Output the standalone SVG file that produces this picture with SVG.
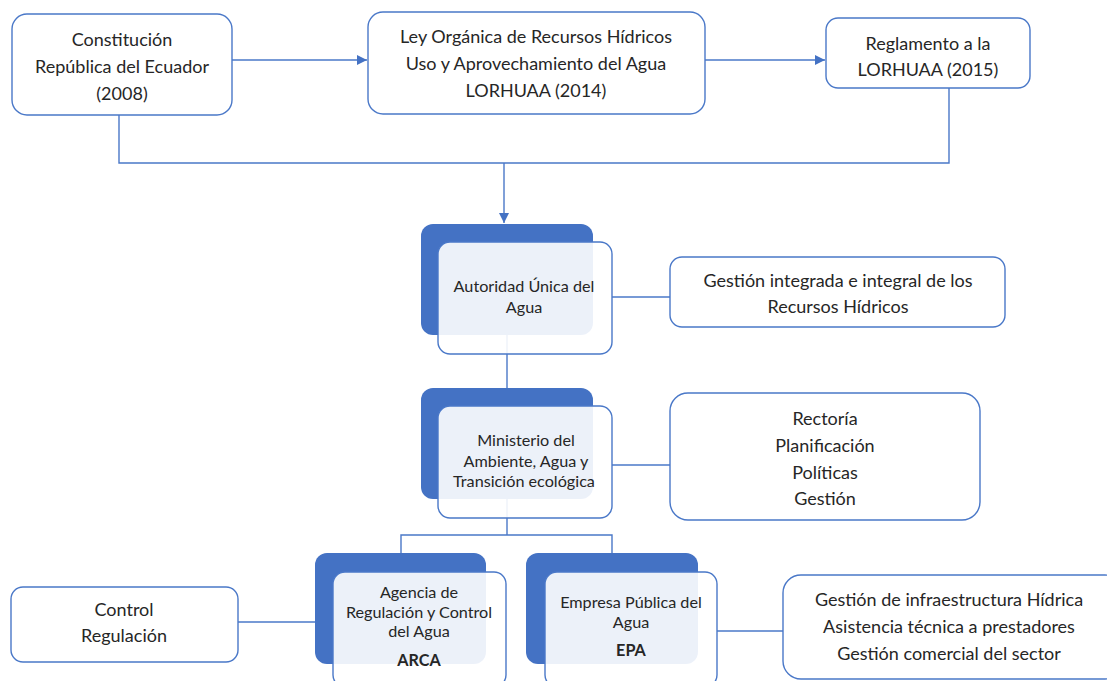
<svg xmlns="http://www.w3.org/2000/svg" width="1107" height="681" viewBox="0 0 1107 681">
<defs>
<style>
.box{fill:#fff;stroke:#4a78c8;stroke-width:1.4}
.back{fill:#4472c4}
.front{fill:#fff;fill-opacity:0.9;stroke:#4a78c8;stroke-width:1.4}
.ln{fill:none;stroke:#4a78c8;stroke-width:1.4}
.t{font-family:Lato,"Liberation Sans",sans-serif;font-size:18px;fill:#262626;text-anchor:middle}
.s{font-family:Lato,"Liberation Sans",sans-serif;font-size:16.2px;fill:#262626;text-anchor:middle}
.b{font-weight:bold}
</style>
<marker id="arr" viewBox="0 0 10 10" refX="10" refY="5" markerWidth="10" markerHeight="10" markerUnits="userSpaceOnUse" orient="auto">
<path d="M0,0 L10,5 L0,10 z" fill="#4472c4"/>
</marker>
</defs>
<rect width="1107" height="681" fill="#fff"/>
<g id="connectors">
<line class="ln" x1="232" y1="60" x2="367" y2="60" marker-end="url(#arr)"/>
<line class="ln" x1="705" y1="60" x2="825" y2="60" marker-end="url(#arr)"/>
<polyline class="ln" points="119,115 119,163 949,163 949,88"/>
<line class="ln" x1="504" y1="163" x2="504" y2="223" marker-end="url(#arr)"/>
<line class="ln" x1="612" y1="297" x2="670" y2="297"/>
<line class="ln" x1="507" y1="335" x2="507" y2="388"/>
<line class="ln" x1="612" y1="465" x2="670" y2="465"/>
<polyline class="ln" points="507,499 507,535"/>
<polyline class="ln" points="401,553 401,535 612,535 612,553"/>
<line class="ln" x1="238" y1="622" x2="315" y2="622"/>
<line class="ln" x1="717" y1="631" x2="783" y2="631"/>
</g>
<g id="constitucion">
<rect class="box" x="12" y="14" width="220" height="101" rx="15"/>
<text class="t" x="122" y="46">Constitución</text>
<text class="t" x="122" y="73">República del Ecuador</text>
<text class="t" x="122" y="100">(2008)</text>
</g>
<g id="ley">
<rect class="box" x="368" y="12" width="337" height="102" rx="15"/>
<text class="t" x="536" y="43">Ley Orgánica de Recursos Hídricos</text>
<text class="t" x="536" y="70">Uso y Aprovechamiento del Agua</text>
<text class="t" x="536" y="97">LORHUAA (2014)</text>
</g>
<g id="reglamento">
<rect class="box" x="826" y="18" width="204" height="70" rx="12"/>
<text class="t" x="928" y="50">Reglamento a la</text>
<text class="t" x="928" y="76">LORHUAA (2015)</text>
</g>
<g id="autoridad">
<rect class="back" x="421" y="224" width="172" height="111" rx="12"/>
<rect class="front" x="438" y="242" width="174" height="112" rx="12"/>
<text class="s" x="524" y="292">Autoridad Única del</text>
<text class="s" x="524" y="313">Agua</text>
</g>
<g id="gestion-integrada">
<rect class="box" x="670" y="257" width="335" height="70" rx="12"/>
<text class="t" x="838" y="287">Gestión integrada e integral de los</text>
<text class="t" x="838" y="313">Recursos Hídricos</text>
</g>
<g id="ministerio">
<rect class="back" x="421" y="388" width="172" height="111" rx="12"/>
<rect class="front" x="438" y="406" width="174" height="112" rx="12"/>
<text class="s" x="526" y="446">Ministerio del</text>
<text class="s" x="526" y="467">Ambiente, Agua y</text>
<text class="s" x="524" y="487">Transición ecológica</text>
</g>
<g id="funciones">
<rect class="box" x="670" y="393" width="310" height="127" rx="18"/>
<text class="t" x="825" y="425">Rectoría</text>
<text class="t" x="825" y="452">Planificación</text>
<text class="t" x="825" y="479">Políticas</text>
<text class="t" x="825" y="505">Gestión</text>
</g>
<g id="arca">
<rect class="back" x="315" y="553" width="171" height="111" rx="12"/>
<rect class="front" x="333" y="572" width="173" height="115" rx="12"/>
<text class="s" x="419" y="598">Agencia de</text>
<text class="s" x="419" y="618">Regulación y Control</text>
<text class="s" x="419" y="637">del Agua</text>
<text class="s b" x="419" y="666">ARCA</text>
</g>
<g id="control">
<rect class="box" x="11" y="587" width="227" height="75" rx="12"/>
<text class="t" x="124" y="616">Control</text>
<text class="t" x="124" y="642">Regulación</text>
</g>
<g id="epa">
<rect class="back" x="526" y="553" width="172" height="111" rx="12"/>
<rect class="front" x="545" y="572" width="172" height="115" rx="12"/>
<text class="s" x="631" y="608">Empresa Pública del</text>
<text class="s" x="631" y="628">Agua</text>
<text class="s b" x="631" y="656">EPA</text>
</g>
<g id="servicios">
<rect class="box" x="783" y="575" width="340" height="104" rx="18"/>
<text class="t" x="949" y="606">Gestión de infraestructura Hídrica</text>
<text class="t" x="949" y="633">Asistencia técnica a prestadores</text>
<text class="t" x="949" y="660">Gestión comercial del sector</text>
</g>
</svg>
